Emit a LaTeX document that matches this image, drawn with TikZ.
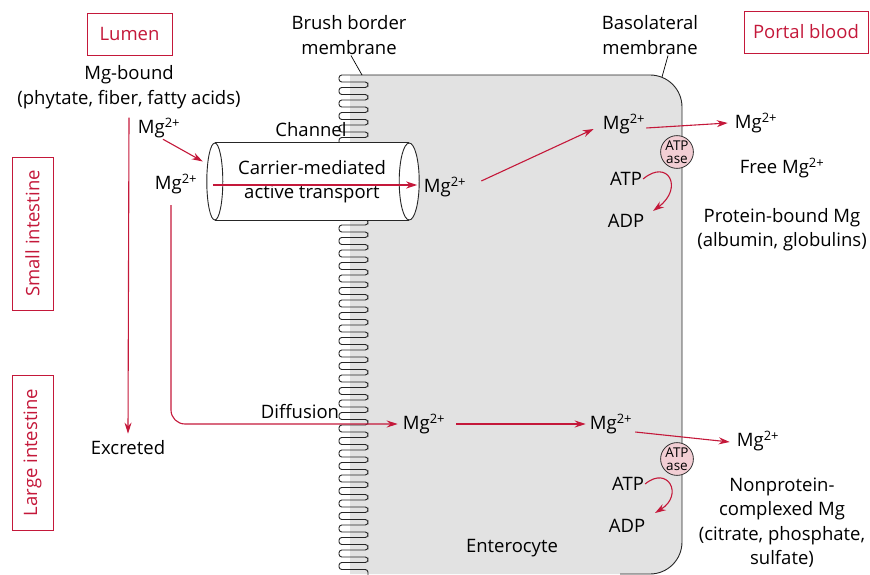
\documentclass[tikz,border=0pt]{standalone}
\usepackage{fontspec}
\setmainfont{Open Sans}
\usetikzlibrary{arrows.meta,positioning}
\definecolor{mgred}{RGB}{196,24,58}
\definecolor{cellgray}{RGB}{226,226,226}
\definecolor{atppink}{RGB}{242,206,212}
\newcommand{\mgion}{Mg\textsuperscript{2+}}
\tikzset{
  lbl/.style={font=\fontsize{18.5}{24.5}\selectfont, inner sep=1pt, align=center},
  site/.style={rectangle, draw=mgred, line width=0.9pt, text=mgred,
    font=\fontsize{18.5}{22}\selectfont, inner sep=0pt},
  flow/.style={-{Stealth[length=11pt,width=7pt]}, line width=1.1pt, draw=mgred},
  pump/.style={circle, draw=black!80, fill=atppink, line width=0.8pt, minimum size=32pt,
    inner sep=0pt, align=center, font=\fontsize{13.5}{13.5}\selectfont},
  membr/.style={line width=0.9pt, draw=black!85},
  lead/.style={line width=0.7pt, draw=black},
}
\begin{document}
\begin{tikzpicture}[x=1pt,y=-1pt]
    \useasboundingbox (0,0) rectangle (870,575);
    % enterocyte body
    \begin{scope}
      \clip (350,0) rectangle (870,575);
      \fill[cellgray, rounded corners=32pt] (300,75) rectangle (682,574);
    \end{scope}
    % brush border
    \draw[membr, rounded corners=2.8pt] (362,75)
      \foreach \y in {75,87.5,...,570}{ -- (339,\y) -- (339,\y+7) -- (368,\y+7) -- (368,\y+12.5)};
    \draw[membr, rounded corners=32pt] (362,75) -- (682,75) -- (682,574) -- (620,574);
    % regions
    \node[site, minimum width=85pt, minimum height=42pt](lumen) at (129.5,34) {Lumen};
    \node[site, minimum width=124pt, minimum height=42pt](portal) at (806,32) {Portal blood};
    \node[site, rotate=90, minimum width=153pt, minimum height=41pt](smallint) at (32.5,233.5) {Small intestine};
    \node[site, rotate=90, minimum width=155pt, minimum height=41pt](largeint) at (32.5,452.5) {Large intestine};
    % labels
    \node[lbl](bound) at (129,87) {Mg-bound\\(phytate, fiber, fatty acids)};
    \node[lbl](brush) at (349,35) {Brush border\\membrane};
    \node[lbl](baso) at (650,35) {Basolateral\\membrane};
    \node[lbl](channel) at (311,130) {Channel};
    \node[lbl](mgA) at (159,128) {\mgion};
    \node[lbl](mgB) at (176,184) {\mgion};
    \node[lbl](excreted) at (128,448) {Excreted};
    \node[lbl](diffusion) at (300,412) {Diffusion};
    \node[lbl](mgC) at (445,187) {\mgion};
    \node[lbl](mgD) at (624,124) {\mgion};
    \node[lbl](mgE) at (756,123) {\mgion};
    \node[lbl](free) at (782,168) {Free \mgion};
    \node[lbl](protein) at (782,229.5) {Protein-bound Mg\\(albumin, globulins)};
    \node[lbl](atpA) at (626,179) {ATP};
    \node[lbl](adpA) at (626,221) {ADP};
    \node[lbl](mgF) at (424,424) {\mgion};
    \node[lbl](mgG) at (611,424) {\mgion};
    \node[lbl](mgH) at (758,441) {\mgion};
    \node[lbl](atpB) at (628,484) {ATP};
    \node[lbl](adpB) at (627,526) {ADP};
    \node[lbl](enterocyte) at (512,548) {Enterocyte};
    \node[lbl](nonprot) at (782,522.5) {Nonprotein-\\complexed Mg\\(citrate, phosphate,\\sulfate)};
    % channel
    \node[lbl, fill=white, minimum width=194pt, minimum height=77pt](carrier) at (312,181.5) {Carrier-mediated\\active transport};
    \draw[membr] (carrier.north west) -- (carrier.north east) (carrier.south west) -- (carrier.south east);
    \draw[membr, fill=white] (carrier.east) ellipse [x radius=10pt, y radius=38.5pt];
    \draw[membr, fill=white] (carrier.west) ellipse [x radius=8pt, y radius=38.5pt];
    % pumps
    \node[pump](pumpA) at (677,152) {ATP\\ase};
    \node[pump](pumpB) at (677,459) {ATP\\ase};
    % leaders
    \coordinate (brushtip) at (362,75);
    \coordinate (basotip) at (662,77);
    \draw[lead] ([xshift=2pt]brush.south) -- (brushtip);
    \draw[lead] ([xshift=18pt]baso.south) -- (basotip);
    % fluxes
    \draw[flow] ([yshift=-8pt]bound.south) -- ([yshift=6pt]excreted.north);
    \draw[flow] ([xshift=4pt]mgA.south) -- ([xshift=-12pt,yshift=20pt]carrier.west);
    \draw[flow] ([xshift=-2pt,yshift=-3.5pt]carrier.west) -- ([xshift=8pt,yshift=-3.5pt]carrier.east);
    \draw[flow, rounded corners=14pt] ([xshift=-5pt,yshift=-10pt]mgB.south) |- ([xshift=-4pt]mgF.west);
    \draw[flow] ([xshift=14pt,yshift=6pt]mgC.east) -- ([xshift=-8pt,yshift=-5pt]mgD.west);
    \draw[flow] ([yshift=-4pt]mgD.east) -- ([xshift=-6pt,yshift=0pt]mgE.west);
    \draw[flow] (atpA.east) .. controls (668,158) and (684,188) .. (653,211);
    \draw[flow] ([xshift=10pt]mgF.east) -- ([xshift=-3pt]mgG.west);
    \draw[flow] ([xshift=2pt,yshift=-8pt]mgG.east) -- ([xshift=-6pt,yshift=-1pt]mgH.west);
    \draw[flow] (atpB.east) .. controls (668,465) and (684,495) .. (655,513);
  \end{tikzpicture}
\end{document}
